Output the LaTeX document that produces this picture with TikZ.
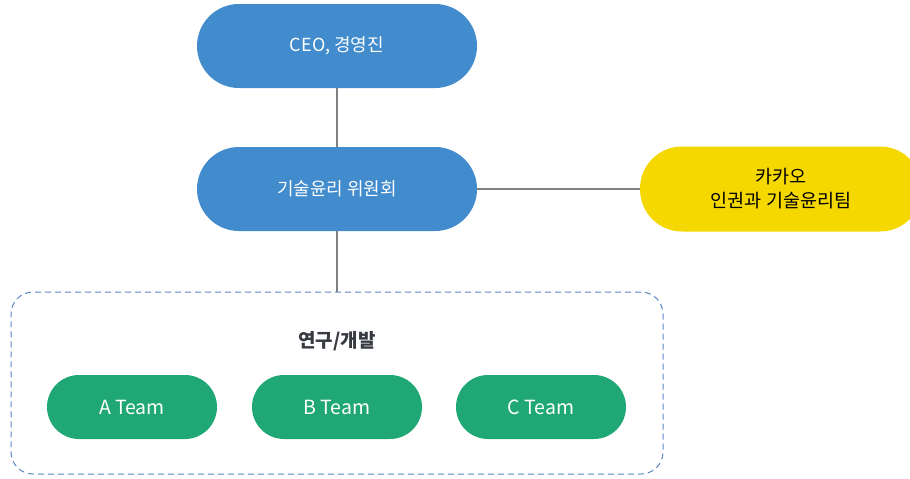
\documentclass[tikz,border=0pt]{standalone}
\usepackage{fontspec}
\setmainfont{Noto Sans CJK KR}
\definecolor{boardblue}{RGB}{66,139,204}
\definecolor{kakaoyellow}{RGB}{245,216,0}
\definecolor{teamgreen}{RGB}{31,167,118}
\definecolor{linkgray}{RGB}{128,128,128}
\definecolor{boxblue}{RGB}{91,134,196}
\definecolor{labelgray}{RGB}{55,58,64}
\begin{document}
\begin{tikzpicture}[x=1pt,y=-1pt,
  board/.style={fill=boardblue,text=white,rounded corners=42pt,minimum width=280pt,minimum height=84pt,font=\fontsize{18}{22}\selectfont},
  partner/.style={fill=kakaoyellow,text=black,rounded corners=42pt,minimum width=282pt,minimum height=85pt,align=center,font=\fontsize{18.5}{24}\selectfont},
  team/.style={fill=teamgreen,text=white,rounded corners=32pt,minimum width=170pt,minimum height=64pt,font=\fontsize{19.5}{22}\selectfont},
  link/.style={draw=linkgray,line width=1.2pt}]
\useasboundingbox (0,0) rectangle (910,479);
% upper boxes
\node[board] (ceo) at (337,46) {CEO, 경영진};
\node[board] (ethics) at (337,189) {기술윤리 위원회};
\node[partner] (kakao) at (781,189) {카카오\\인권과 기술윤리팀};
% research group
\node[draw=boxblue,dashed,dash pattern=on 6pt off 4pt,line width=1pt,rounded corners=22pt,minimum width=652pt,minimum height=182pt] (rnd) at (337,383) {};
\node[text=labelgray,font=\bfseries\fontsize{19}{22}\selectfont] (rndlabel) at (337,341) {연구/개발};
\node[team] (ateam) at (132,407) {A Team};
\node[team] (bteam) at (337,407) {B Team};
\node[team] (cteam) at (541,407) {C Team};
% links
\draw[link] (ceo) -- (ethics);
\draw[link] (ethics) -- (kakao);
\draw[link] (ethics) -- (rnd);
\end{tikzpicture}
\end{document}
